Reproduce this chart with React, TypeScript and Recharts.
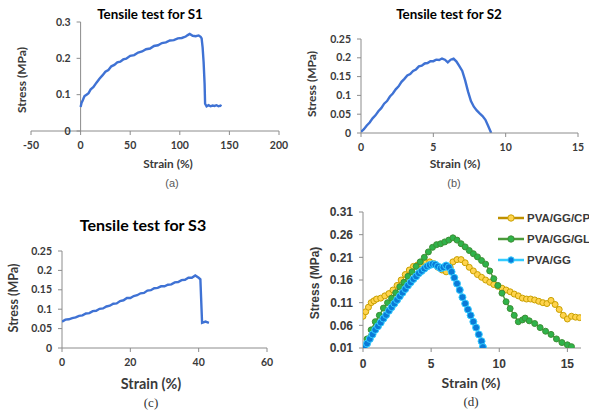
import React from 'react';
import { LineChart, Line, XAxis, YAxis, ReferenceLine } from 'recharts';

// (a) S1
const s1Strain = [0, 1, 2, 3, 4, 6, 8, 10, 13, 16, 19, 22, 25, 28, 31, 34, 37, 40, 43, 46, 50, 54, 58, 62, 66, 70, 74, 78, 82, 86, 90, 94, 98, 102, 106, 108, 110, 113, 116, 119, 121, 122, 123, 124, 125, 125.5, 127, 129, 131, 133, 135, 137, 139, 141, 142];
const s1Stress = [0.066, 0.078, 0.083, 0.09, 0.096, 0.1, 0.104, 0.114, 0.121, 0.133, 0.144, 0.153, 0.163, 0.168, 0.178, 0.182, 0.189, 0.191, 0.197, 0.199, 0.207, 0.209, 0.216, 0.219, 0.225, 0.227, 0.234, 0.236, 0.242, 0.244, 0.249, 0.25, 0.255, 0.256, 0.26, 0.264, 0.267, 0.262, 0.261, 0.263, 0.259, 0.255, 0.23, 0.19, 0.13, 0.075, 0.068, 0.071, 0.068, 0.07, 0.069, 0.071, 0.068, 0.07, 0.068];

// (b) S2
const s2Strain = [0, 0.2, 0.4, 0.6, 0.8, 1, 1.2, 1.4, 1.6, 1.8, 2, 2.2, 2.4, 2.6, 2.8, 3, 3.2, 3.4, 3.6, 3.8, 4, 4.2, 4.4, 4.6, 4.8, 5, 5.2, 5.4, 5.6, 5.8, 6, 6.2, 6.4, 6.6, 6.8, 7, 7.2, 7.4, 7.6, 7.8, 8, 8.2, 8.4, 8.6, 8.8, 9];
const s2Stress = [0.003, 0.01, 0.02, 0.028, 0.039, 0.047, 0.058, 0.066, 0.078, 0.085, 0.097, 0.105, 0.116, 0.124, 0.136, 0.144, 0.153, 0.157, 0.165, 0.169, 0.177, 0.179, 0.185, 0.186, 0.191, 0.191, 0.195, 0.194, 0.198, 0.195, 0.188, 0.195, 0.198, 0.19, 0.178, 0.165, 0.14, 0.11, 0.085, 0.07, 0.06, 0.052, 0.045, 0.035, 0.018, 0.0];

// (c) S3
const s3Strain = [0, 1, 2, 3, 4, 5, 6, 7, 8, 9, 10, 11, 12, 13, 14, 15, 16, 17, 18, 19, 20, 21, 22, 23, 24, 25, 26, 27, 28, 29, 30, 31, 32, 33, 34, 35, 36, 37, 38, 39, 40, 40.5, 41, 42, 43];
const s3Stress = [0.068, 0.073, 0.074, 0.077, 0.079, 0.083, 0.084, 0.089, 0.09, 0.095, 0.096, 0.101, 0.102, 0.107, 0.109, 0.114, 0.115, 0.121, 0.123, 0.129, 0.129, 0.134, 0.136, 0.141, 0.142, 0.148, 0.149, 0.154, 0.155, 0.159, 0.159, 0.163, 0.164, 0.169, 0.17, 0.175, 0.176, 0.181, 0.181, 0.187, 0.181, 0.177, 0.065, 0.068, 0.065];

// (d) comparison
const cpStrain = [0, 0.2, 0.4, 0.6, 0.8, 1.0, 1.3, 1.6, 1.9, 2.2, 2.5, 2.8, 3.1, 3.4, 3.7, 4.0, 4.3, 4.6, 4.9, 5.2, 5.5, 5.8, 6.1, 6.4, 6.6, 6.9, 7.2, 7.5, 7.8, 8.1, 8.4, 8.7, 9.0, 9.3, 9.6, 9.9, 10.2, 10.5, 10.8, 11.1, 11.4, 11.7, 12.0, 12.3, 12.6, 12.9, 13.2, 13.5, 13.8, 14.1, 14.4, 14.7, 15.0, 15.3, 15.6, 15.9];
const cpStress = [0.08, 0.09, 0.1, 0.11, 0.114, 0.118, 0.12, 0.125, 0.13, 0.138, 0.148, 0.16, 0.172, 0.182, 0.19, 0.193, 0.195, 0.198, 0.2, 0.196, 0.188, 0.182, 0.178, 0.188, 0.2, 0.205, 0.205, 0.198, 0.188, 0.18, 0.172, 0.166, 0.16, 0.155, 0.15, 0.146, 0.142, 0.138, 0.134, 0.129, 0.125, 0.12, 0.118, 0.118, 0.116, 0.113, 0.11, 0.108, 0.115, 0.106, 0.095, 0.082, 0.074, 0.08, 0.078, 0.077];

const glStrain = [0, 0.3, 0.6, 0.9, 1.2, 1.5, 1.8, 2.1, 2.4, 2.7, 3.0, 3.3, 3.6, 3.9, 4.2, 4.5, 4.8, 5.1, 5.4, 5.7, 6.0, 6.3, 6.6, 6.9, 7.2, 7.5, 7.8, 8.1, 8.4, 8.7, 9.0, 9.3, 9.6, 9.9, 10.2, 10.5, 10.8, 11.1, 11.4, 11.7, 11.9, 12.2, 12.6, 13.0, 13.4, 13.8, 14.2, 14.6, 15.0, 15.3];
const glStress = [0.01, 0.03, 0.05, 0.068, 0.082, 0.098, 0.11, 0.12, 0.132, 0.145, 0.155, 0.168, 0.178, 0.19, 0.2, 0.21, 0.222, 0.232, 0.238, 0.24, 0.244, 0.248, 0.253, 0.248, 0.24, 0.233, 0.225, 0.218, 0.211, 0.203, 0.195, 0.18, 0.163, 0.148, 0.131, 0.112, 0.097, 0.082, 0.068, 0.072, 0.076, 0.07, 0.064, 0.055, 0.047, 0.04, 0.03, 0.022, 0.017, 0.013];

const ggStrain = [0.1, 0.3, 0.5, 0.7, 0.9, 1.1, 1.3, 1.5, 1.7, 1.9, 2.1, 2.3, 2.5, 2.7, 2.9, 3.1, 3.3, 3.5, 3.7, 3.9, 4.1, 4.3, 4.5, 4.7, 4.9, 5.1, 5.3, 5.5, 5.7, 5.9, 6.1, 6.3, 6.5, 6.7, 6.9, 7.1, 7.3, 7.5, 7.7, 7.9, 8.1, 8.3, 8.5, 8.7, 8.8];
const ggStress = [0.01, 0.02, 0.03, 0.04, 0.05, 0.058, 0.066, 0.075, 0.083, 0.092, 0.1, 0.108, 0.116, 0.124, 0.132, 0.14, 0.148, 0.155, 0.162, 0.168, 0.175, 0.18, 0.185, 0.19, 0.193, 0.195, 0.194, 0.19, 0.186, 0.188, 0.192, 0.188, 0.178, 0.165, 0.152, 0.138, 0.122, 0.108, 0.095, 0.082, 0.068, 0.055, 0.04, 0.025, 0.012];

const s1Ticks = [-50, 0, 50, 100, 150, 200];
const s1YTicks = [0, 0.1, 0.2, 0.3];
const s2Ticks = [0, 5, 10, 15];
const s2YTicks = [0, 0.05, 0.1, 0.15, 0.2, 0.25];
const s3Ticks = [0, 20, 40, 60];
const s3YTicks = [0, 0.05, 0.1, 0.15, 0.2, 0.25];
const dTicks = [0, 5, 10, 15];
const dYTicks = [0.01, 0.06, 0.11, 0.16, 0.21, 0.26, 0.31];

const zip = (xs: number[], ys: number[]) => xs.map((x, i) => ({ x, y: ys[i] }));

const LATO = 'Lato, "Open Sans", sans-serif';
const ARIAL = '"Liberation Sans", Arial, sans-serif';
const AXIS = '#8c8c8c';
const INK = '#3a3a3a';
const BLUE = '#3f72d4';

type Box = { left: number; top: number; width: number; height: number };
type Plot = { x1: number; x2: number; y1: number; y2: number };

interface PanelProps {
  box: Box;
  plot: Plot;
  xDomain: [number, number];
  xTicks: number[];
  yDomain: [number, number];
  yTicks: number[];
  font: string;
  fontSize: number;
  children: React.ReactNode;
}

const XH = 20;
const YW = 1;

function Panel({ box, plot, xDomain, xTicks, yDomain, yTicks, font, fontSize, children }: PanelProps) {
  const margin = {
    top: plot.y1 - box.top,
    left: plot.x1 - box.left - YW,
    right: box.left + box.width - plot.x2,
    bottom: box.top + box.height - plot.y2 - XH,
  };
  // y axis crosses at strain = 0
  const axisX = plot.x1 - box.left + ((0 - xDomain[0]) / (xDomain[1] - xDomain[0])) * (plot.x2 - plot.x1);
  const tickStyle = { fill: INK, fontSize, fontWeight: 700, fontFamily: font };

  const yTick = (props: any) => {
    const { y, payload } = props;
    return (
      <g>
        <line x1={axisX - 4} x2={axisX} y1={y} y2={y} stroke={AXIS} />
        <text x={axisX - 10} y={y} dy="0.35em" textAnchor="end" {...tickStyle}>
          {String(payload.value)}
        </text>
      </g>
    );
  };

  return (
    <div style={{ position: 'absolute', left: box.left, top: box.top }}>
      <LineChart width={box.width} height={box.height} margin={margin}>
        <XAxis
          type="number"
          dataKey="x"
          domain={xDomain}
          ticks={xTicks}
          interval={0}
          allowDataOverflow
          height={XH}
          stroke={AXIS}
          tickSize={4}
          tickMargin={7}
          tick={tickStyle}
        />
        <YAxis
          type="number"
          domain={yDomain}
          ticks={yTicks}
          interval={0}
          allowDataOverflow
          width={YW}
          axisLine={false}
          tickLine={false}
          tick={yTick}
        />
        <ReferenceLine x={0} stroke={AXIS} />
        {children}
      </LineChart>
    </div>
  );
}

function Txt({ x, y, size, color = INK, family = LATO, weight = 700, rotate = false, children }: any) {
  return (
    <div
      style={{
        position: 'absolute',
        left: x,
        top: y,
        transform: `translate(-50%, -50%)${rotate ? ' rotate(-90deg)' : ''}`,
        fontFamily: family,
        fontSize: size,
        fontWeight: weight,
        color,
        whiteSpace: 'nowrap',
        lineHeight: 1,
      }}
    >
      {children}
    </div>
  );
}

const legendItems = [
  { name: 'PVA/GG/CP', line: '#bf9000', fill: '#ffd34d', stroke: '#c9a000', y: 218 },
  { name: 'PVA/GG/GL', line: '#4c9a3a', fill: '#2fb34a', stroke: '#3d8f35', y: 239 },
  { name: 'PVA/GG', line: '#33ccff', fill: '#0a7bd8', stroke: '#33ccff', y: 260 },
];

export default function App() {
  return (
    <div style={{ position: 'absolute', left: 0, top: 0, width: 589, height: 415, background: '#fff', overflow: 'hidden' }}>
      {/* (a) */}
      <Panel
        box={{ left: 0, top: 0, width: 295, height: 200 }}
        plot={{ x1: 31, x2: 279, y1: 22, y2: 131 }}
        xDomain={[-50, 200]}
        xTicks={s1Ticks}
        yDomain={[0, 0.3]}
        yTicks={s1YTicks}
        font={LATO}
        fontSize={10.5}
      >
        <Line data={zip(s1Strain, s1Stress)} dataKey="y" type="linear" stroke={BLUE} strokeWidth={2.4} dot={false} isAnimationActive={false} />
      </Panel>
      <Txt x={150} y={15} size={13.4} color="#000">Tensile test for S1</Txt>
      <Txt x={22} y={80} size={12} rotate>Stress (MPa)</Txt>
      <Txt x={168} y={164} size={11.8}>Strain (%)</Txt>
      <Txt x={172} y={183} size={11} weight={400} color="#595959" family={ARIAL}>(a)</Txt>

      {/* (b) */}
      <Panel
        box={{ left: 295, top: 0, width: 294, height: 200 }}
        plot={{ x1: 361, x2: 578, y1: 39, y2: 133 }}
        xDomain={[0, 15]}
        xTicks={s2Ticks}
        yDomain={[0, 0.25]}
        yTicks={s2YTicks}
        font={LATO}
        fontSize={10.5}
      >
        <Line data={zip(s2Strain, s2Stress)} dataKey="y" type="linear" stroke={BLUE} strokeWidth={2.4} dot={false} isAnimationActive={false} />
      </Panel>
      <Txt x={449} y={15} size={13.4} color="#000">Tensile test for S2</Txt>
      <Txt x={312} y={84} size={12} rotate>Stress (MPa)</Txt>
      <Txt x={455} y={164} size={12}>Strain (%)</Txt>
      <Txt x={454} y={183} size={11} weight={400} color="#595959" family={ARIAL}>(b)</Txt>

      {/* (c) */}
      <Panel
        box={{ left: 0, top: 200, width: 295, height: 215 }}
        plot={{ x1: 62, x2: 267, y1: 251, y2: 348 }}
        xDomain={[0, 60]}
        xTicks={s3Ticks}
        yDomain={[0, 0.25]}
        yTicks={s3YTicks}
        font={LATO}
        fontSize={10.5}
      >
        <Line data={zip(s3Strain, s3Stress)} dataKey="y" type="linear" stroke={BLUE} strokeWidth={2.4} dot={false} isAnimationActive={false} />
      </Panel>
      <Txt x={143} y={225} size={16} color="#000">Tensile test for S3</Txt>
      <Txt x={14} y={298} size={12.5} rotate>Stress (MPa)</Txt>
      <Txt x={151} y={384} size={14.4}>Strain (%)</Txt>
      <Txt x={151} y={402} size={13} weight={400} color="#333" family={'"Liberation Serif", serif'}>(c)</Txt>

      {/* (d) */}
      <Panel
        box={{ left: 295, top: 200, width: 294, height: 215 }}
        plot={{ x1: 363, x2: 581, y1: 212, y2: 348 }}
        xDomain={[0, 16]}
        xTicks={dTicks}
        yDomain={[0.01, 0.31]}
        yTicks={dYTicks}
        font={ARIAL}
        fontSize={12}
      >
        <Line data={zip(cpStrain, cpStress)} dataKey="y" type="linear" stroke="#bf9000" strokeWidth={1.5}
          dot={{ r: 3, fill: '#ffd34d', stroke: '#c9a000', strokeWidth: 1 }} isAnimationActive={false} />
        <Line data={zip(glStrain, glStress)} dataKey="y" type="linear" stroke="#4c9a3a" strokeWidth={1.5}
          dot={{ r: 3, fill: '#2fb34a', stroke: '#3d8f35', strokeWidth: 1 }} isAnimationActive={false} />
        <Line data={zip(ggStrain, ggStress)} dataKey="y" type="linear" stroke="#33ccff" strokeWidth={1.5}
          dot={{ r: 3.5, fill: '#0a7bd8', stroke: '#33ccff', strokeWidth: 1 }} isAnimationActive={false} />
      </Panel>
      <Txt x={315} y={283} size={12} rotate family={ARIAL}>Stress (MPa)</Txt>
      <Txt x={471} y={383} size={14}>Strain (%)</Txt>
      <Txt x={471} y={401} size={13} weight={400} color="#333" family={'"Liberation Serif", serif'}>(d)</Txt>
      {legendItems.map((it) => (
        <div key={it.name} style={{ position: 'absolute', left: 497, top: it.y - 8, height: 16, display: 'flex', alignItems: 'center' }}>
          <svg width={28} height={16}>
            <line x1={1} x2={27} y1={8} y2={8} stroke={it.line} strokeWidth={2.5} />
            <circle cx={14} cy={8} r={3.2} fill={it.fill} stroke={it.stroke} />
          </svg>
          <span style={{ marginLeft: 2, fontFamily: ARIAL, fontWeight: 700, fontSize: 11.5, color: INK }}>{it.name}</span>
        </div>
      ))}
    </div>
  );
}
